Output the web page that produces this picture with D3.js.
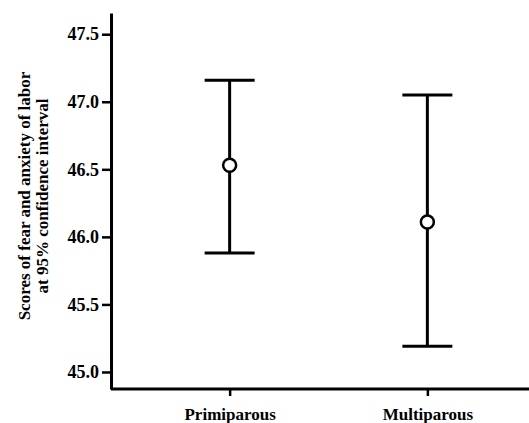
<!DOCTYPE html>
<html>
<head>
<meta charset="utf-8">
<script src="https://cdn.jsdelivr.net/npm/d3@7"></script>
<style>
  body { margin: 0; background: #fff; }
  text { font-family: "Liberation Serif", "Times New Roman", serif; fill: #000; }
</style>
</head>
<body>
<div id="chart"></div>
<script>
// data
const groups = ["Primiparous", "Multiparous"];
const means = [46.53, 46.11];
const lower = [45.88, 45.19];
const upper = [47.16, 47.05];
const yTicks = [45.0, 45.5, 46.0, 46.5, 47.0, 47.5];

const width = 529, height = 423;
const margin = { top: 13, right: 0, bottom: 34, left: 111 };

const svg = d3.select("#chart")
  .append("svg")
  .attr("width", width)
  .attr("height", height);

// scales
const x = d3.scalePoint()
  .domain(groups)
  .range([margin.left, 546])
  .padding(0.6);

const y = d3.scaleLinear()
  .domain([44.874, 47.657])
  .range([height - margin.bottom, margin.top]);

// y axis
const yAxis = svg.append("g")
  .attr("transform", `translate(${margin.left},0)`)
  .call(d3.axisLeft(y).tickValues(yTicks).tickFormat(d3.format(".1f")).tickSize(9).tickSizeOuter(0).tickPadding(3));
yAxis.select(".domain").attr("stroke-width", 3);
yAxis.selectAll(".tick line").attr("stroke-width", 2.5);
yAxis.selectAll("text").style("font-size", "18px").style("font-weight", "bold").attr("fill", "#000");

// x axis
const xAxis = svg.append("g")
  .attr("transform", `translate(0,${height - margin.bottom})`)
  .call(d3.axisBottom(x).tickSize(7).tickSizeOuter(0).tickPadding(12));
xAxis.select(".domain").attr("stroke-width", 3).attr("d", `M${margin.left},0H${width}`);
xAxis.selectAll(".tick line").attr("stroke-width", 2.5);
xAxis.selectAll("text").style("font-size", "17px").style("font-weight", "bold").attr("fill", "#000");

// y title
const title = svg.append("text")
  .attr("transform", `translate(30,${196}) rotate(-90)`)
  .attr("text-anchor", "middle")
  .style("font-size", "17px")
  .style("font-weight", "bold");
title.append("tspan").attr("x", 0).attr("dy", 0).text("Scores of fear and anxiety of labor");
title.append("tspan").attr("x", 0).attr("dy", 18).text("at 95% confidence interval");

// error bars
const capHalf = 25;
const bars = svg.append("g")
  .selectAll("g")
  .data(groups)
  .join("g");

bars.append("line")
  .attr("x1", d => x(d)).attr("x2", d => x(d))
  .attr("y1", (d, i) => y(upper[i])).attr("y2", (d, i) => y(lower[i]))
  .attr("stroke", "#000").attr("stroke-width", 3);

bars.append("line")
  .attr("x1", d => x(d) - capHalf).attr("x2", d => x(d) + capHalf)
  .attr("y1", (d, i) => y(upper[i])).attr("y2", (d, i) => y(upper[i]))
  .attr("stroke", "#000").attr("stroke-width", 3);

bars.append("line")
  .attr("x1", d => x(d) - capHalf).attr("x2", d => x(d) + capHalf)
  .attr("y1", (d, i) => y(lower[i])).attr("y2", (d, i) => y(lower[i]))
  .attr("stroke", "#000").attr("stroke-width", 3);

bars.append("circle")
  .attr("cx", d => x(d))
  .attr("cy", (d, i) => y(means[i]))
  .attr("r", 6.5)
  .attr("fill", "#fff")
  .attr("stroke", "#000")
  .attr("stroke-width", 2.5);
</script>
</body>
</html>
